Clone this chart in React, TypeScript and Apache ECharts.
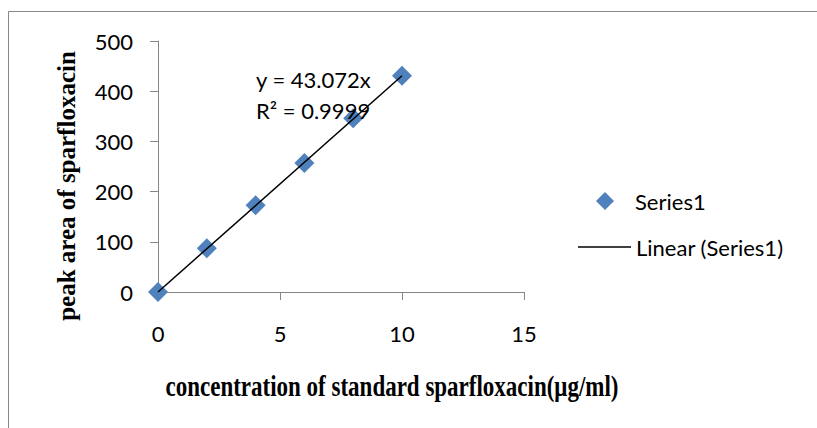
import React, { useEffect, useRef } from "react";
import * as echarts from "echarts";

const concentrations = [0, 2, 4, 6, 8, 10];
const peakAreas = [0, 87, 173, 257, 346, 431];
const slope = 43.072;
const trendRange = [0, 10];
const equationText = "y = 43.072x";
const r2Text = "R² = 0.9999";
const seriesName = "Series1";
const trendName = "Linear (Series1)";
const xTitle = "concentration of standard sparfloxacin(μg/ml)";
const yTitle = "peak area of sparfloxacin";

export default function App() {
  const ref = useRef<HTMLDivElement>(null);
  useEffect(() => {
    if (!ref.current) return;
    const chart = echarts.init(ref.current, null, { renderer: "svg" });
    const font = "Lato";
    const axisColor = "#868686";
    chart.setOption({
      animation: false,
      backgroundColor: "#fff",
      grid: { left: 158, right: 293, top: 41, bottom: 136, containLabel: false },
      xAxis: {
        type: "value",
        min: 0,
        max: 15,
        interval: 5,
        axisLine: { show: true, onZero: false, lineStyle: { color: axisColor, width: 1 } },
        axisTick: { show: true, length: 8, inside: false, lineStyle: { color: axisColor } },
        splitLine: { show: false },
        axisLabel: { color: "#000", fontFamily: font, fontSize: 22, margin: 30 },
      },
      yAxis: {
        type: "value",
        min: 0,
        max: 500,
        interval: 100,
        axisLine: { show: true, lineStyle: { color: axisColor, width: 1 } },
        axisTick: { show: true, length: 8, lineStyle: { color: axisColor } },
        splitLine: { show: false },
        axisLabel: { color: "#000", fontFamily: font, fontSize: 22, margin: 25 },
      },
      legend: [
        {
          data: [{ name: seriesName, icon: "diamond" }],
          left: 596,
          top: 190,
          padding: 0,
          itemWidth: 18,
          itemHeight: 18,
          itemStyle: { color: "#4F81BD", opacity: 1 },
          textStyle: { color: "#000", fontFamily: font, fontSize: 22, padding: [0, 0, 0, 16] },
        },
        {
          data: [{ name: trendName, icon: "rect" }],
          left: 578,
          top: 236,
          padding: 0,
          itemWidth: 53,
          itemHeight: 1.5,
          itemStyle: { color: "#000" },
          textStyle: { color: "#000", fontFamily: font, fontSize: 22 },
        },
      ],
      series: [
        {
          name: trendName,
          type: "line",
          data: trendRange.map((x) => [x, slope * x]),
          symbol: "none",
          lineStyle: { color: "#000", width: 1.5 },
          itemStyle: { color: "#000" },
          z: 3,
        },
        {
          name: seriesName,
          type: "scatter",
          symbol: "diamond",
          symbolSize: 20,
          data: concentrations.map((x, i) => [x, peakAreas[i]]),
          itemStyle: { color: "#4F81BD", opacity: 1 },
          z: 2,
        },
      ],
      graphic: [
        {
          type: "rect",
          shape: { x: 8.5, y: 11.5, width: 900, height: 500 },
          style: { fill: "none", stroke: "#888", lineWidth: 1 },
          silent: true,
        },
        {
          type: "text",
          x: 256,
          y: 79,
          style: { text: equationText, fontFamily: font, fontSize: 22, fill: "#000", align: "left", verticalAlign: "middle" },
          z: 10,
        },
        {
          type: "text",
          x: 256,
          y: 110,
          style: { text: r2Text, fontFamily: font, fontSize: 22, fill: "#000", align: "left", verticalAlign: "middle" },
          z: 10,
        },
        {
          type: "text",
          x: 392,
          y: 386,
          scaleY: 1.3,
          style: { text: xTitle, fontFamily: "Liberation Serif", fontWeight: "bold", fontSize: 23, fill: "#000", align: "center", verticalAlign: "middle" },
        },
        {
          type: "text",
          x: 66,
          y: 186,
          rotation: Math.PI / 2,
          style: { text: yTitle, fontFamily: "Liberation Serif", fontWeight: "bold", fontSize: 25, fill: "#000", align: "center", verticalAlign: "middle" },
        },
      ],
    });
    return () => chart.dispose();
  }, []);
  return <div ref={ref} style={{ position: "fixed", left: 0, top: 0, width: 817, height: 428 }} />;
}
